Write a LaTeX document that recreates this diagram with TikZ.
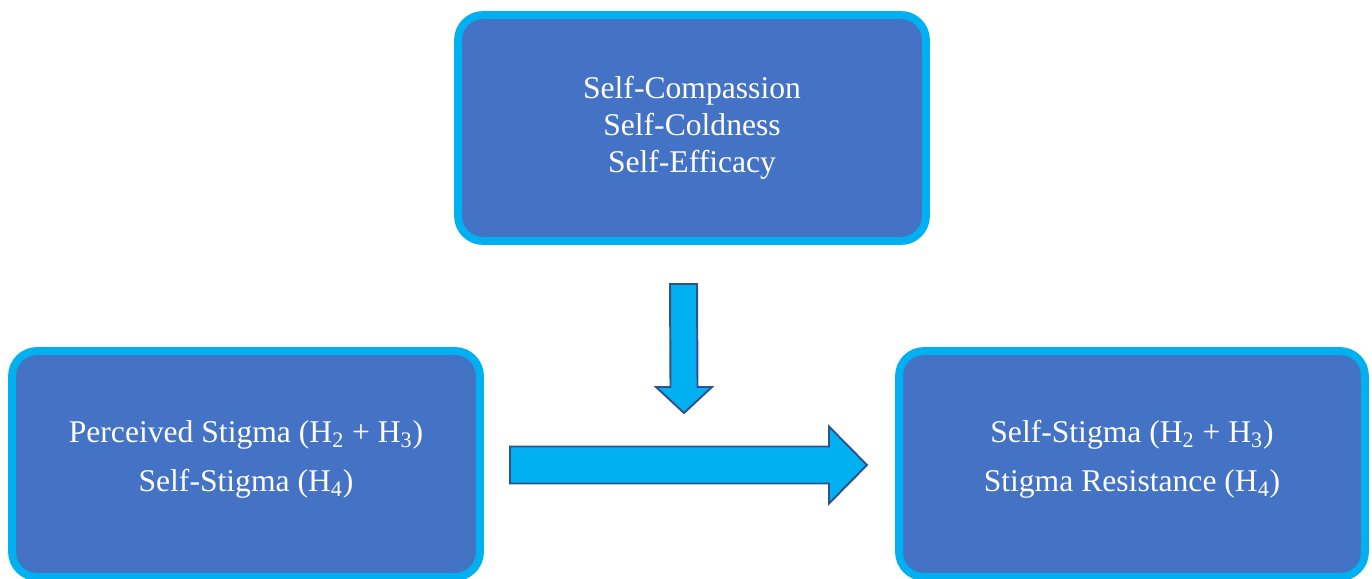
\documentclass[tikz,border=0pt]{standalone}
\usepackage{fontspec}
\setmainfont{Liberation Serif}
\usepackage{xcolor}
\usetikzlibrary{positioning, calc}

\definecolor{boxblue}{HTML}{4472C4}
\definecolor{cyanline}{HTML}{00B0F0}
\definecolor{darkline}{HTML}{2F528F}

\begin{document}
\begin{tikzpicture}[x=0.02cm, y=-0.02cm,
    block/.style={draw=cyanline, fill=boxblue, line width=4.5pt, rounded corners=0.5cm,
        minimum width=9.36cm, minimum height=4.52cm, align=center, text=white,
        font=\fontsize{18}{21}\selectfont},
    wide/.style={font=\fontsize{18}{28}\selectfont},
    fatarrow/.style={draw=darkline, fill=cyanline, line width=1.1pt, line join=miter}]
            \useasboundingbox (0,0) rectangle (1372,578);

            \node[block] (mod) at (692,128) {Self-Compassion\\Self-Coldness\\Self-Efficacy};
            \node[block, wide] (pred) at (246,464) {Perceived Stigma (H\textsubscript{2} + H\textsubscript{3})\\Self-Stigma (H\textsubscript{4})\vspace{5pt}};
            \node[block, wide, minimum width=9.32cm] (out) at (1132,464) {Self-Stigma (H\textsubscript{2} + H\textsubscript{3})\\Stigma Resistance (H\textsubscript{4})\vspace{5pt}};

            % arrow ends
            \coordinate (vs) at (683.5,284);
            \coordinate (vt) at (684,413);
            \coordinate (hs) at (510,465);
            \coordinate (ht) at (867,465);

            \draw[fatarrow] ($(vs)+(-13.5,0)$) -- ($(vt)+(-13.5,-26)$) -- ($(vt)+(-28,-26)$) -- (vt)
                -- ($(vt)+(28,-26)$) -- ($(vt)+(13.5,-26)$) -- ($(vs)+(13.5,0)$) -- cycle;
            \draw[fatarrow] ($(hs)+(0,-18.5)$) -- ($(ht)+(-38,-18.5)$) -- ($(ht)+(-38,-38.5)$) -- (ht)
                -- ($(ht)+(-38,38.5)$) -- ($(ht)+(-38,18.5)$) -- ($(hs)+(0,18.5)$) -- cycle;
        \end{tikzpicture}
\end{document}
